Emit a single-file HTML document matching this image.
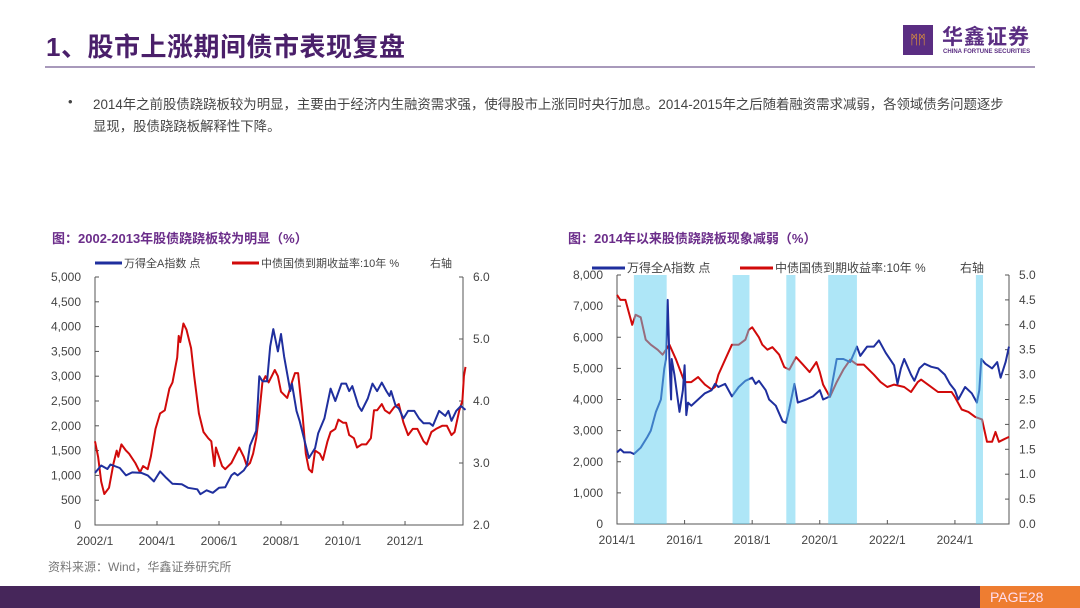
<!DOCTYPE html>
<html><head><meta charset="utf-8">
<style>
body{margin:0;width:1080px;height:608px;overflow:hidden;background:#fff;font-family:"Liberation Sans","Noto Sans CJK SC",sans-serif;position:relative}
.abs{position:absolute}
</style></head><body>
<div class="abs" style="left:46px;top:27px;font-size:26px;font-weight:bold;color:#4a1f6a;letter-spacing:0.5px">1、股市上涨期间债市表现复盘</div>
<div class="abs" style="left:45px;top:66px;width:990px;height:2px;background:#a899bb"></div>
<div class="abs" style="left:903px;top:25px;width:30px;height:30px;background:#5a2d82;color:#f0a030;font-size:13px;text-align:center;line-height:30px">ᛗᛗ</div>
<div class="abs" style="left:942px;top:21px;font-size:21px;color:#5a2d82;font-weight:bold;letter-spacing:1px">华鑫证券</div>
<div class="abs" style="left:943px;top:49px;font-size:6px;color:#5a2d82;font-weight:bold">CHINA FORTUNE SECURITIES</div>
<div class="abs" style="left:68px;top:94px;font-size:13px;color:#444">•</div>
<div class="abs" style="left:93px;top:94px;width:960px;font-size:13.4px;line-height:22px;color:#444;white-space:nowrap">2014年之前股债跷跷板较为明显，主要由于经济内生融资需求强，使得股市上涨同时央行加息。2014-2015年之后随着融资需求减弱，各领域债务问题逐步<br>显现，股债跷跷板解释性下降。</div>
<div class="abs" style="left:52px;top:228px;font-size:13px;font-weight:bold;color:#6b2d8a">图：2002-2013年股债跷跷板较为明显（%）</div>
<div class="abs" style="left:568px;top:228px;font-size:13px;font-weight:bold;color:#6b2d8a">图：2014年以来股债跷跷板现象减弱（%）</div>
<div class="abs" style="left:48px;top:558px;font-size:12px;color:#777">资料来源：Wind，华鑫证券研究所</div>
<div class="abs" style="left:0;top:586px;width:1080px;height:22px;background:#46265a"></div>
<div class="abs" style="left:980px;top:586px;width:100px;height:22px;background:#ee7d31;color:#fde;font-size:14px;line-height:22px;text-indent:10px">PAGE28</div>
<svg id="svg" class="abs" style="left:0;top:0" width="1080" height="608"></svg>
<script>
const c1Blue=[[2002.0,1050],[2002.2,1200],[2002.4,1130],[2002.5,1220],[2002.8,1150],[2003.0,1000],[2003.2,1060],[2003.5,1050],[2003.7,1000],[2003.9,880],[2004.1,1080],[2004.3,950],[2004.5,830],[2004.8,820],[2005.0,750],[2005.3,720],[2005.4,620],[2005.6,700],[2005.8,650],[2006.0,750],[2006.2,760],[2006.4,1000],[2006.5,1050],[2006.6,1000],[2006.8,1100],[2006.9,1200],[2007.0,1600],[2007.2,1900],[2007.3,3000],[2007.4,2900],[2007.55,2900],[2007.65,3600],[2007.75,3950],[2007.9,3500],[2008.0,3850],[2008.1,3400],[2008.3,2700],[2008.35,2850],[2008.5,2300],[2008.6,2100],[2008.8,1600],[2008.9,1350],[2009.1,1550],[2009.2,1850],[2009.4,2150],[2009.6,2750],[2009.75,2500],[2009.95,2850],[2010.1,2850],[2010.2,2700],[2010.3,2800],[2010.5,2400],[2010.6,2300],[2010.8,2550],[2010.95,2850],[2011.1,2700],[2011.25,2870],[2011.4,2700],[2011.5,2600],[2011.55,2700],[2011.7,2400],[2011.8,2350],[2011.95,2150],[2012.1,2300],[2012.3,2300],[2012.45,2150],[2012.6,2050],[2012.8,2050],[2012.9,2000],[2013.1,2300],[2013.3,2200],[2013.4,2300],[2013.5,2100],[2013.65,2300],[2013.8,2400],[2013.95,2320]];
const c1Red=[[2002.0,3.35],[2002.1,3.1],[2002.2,2.7],[2002.3,2.5],[2002.45,2.6],[2002.6,3.0],[2002.7,3.2],[2002.75,3.1],[2002.85,3.3],[2003.0,3.2],[2003.1,3.15],[2003.3,3.0],[2003.45,2.85],[2003.55,2.95],[2003.7,2.9],[2003.8,3.1],[2003.95,3.55],[2004.1,3.8],[2004.25,3.85],[2004.4,4.2],[2004.5,4.3],[2004.65,4.7],[2004.7,5.05],[2004.75,4.95],[2004.85,5.25],[2004.95,5.15],[2005.1,4.85],[2005.2,4.4],[2005.35,3.8],[2005.5,3.5],[2005.65,3.4],[2005.75,3.35],[2005.85,2.95],[2005.9,3.25],[2006.0,3.1],[2006.1,2.95],[2006.2,2.9],[2006.4,3.0],[2006.55,3.15],[2006.65,3.25],[2006.8,3.1],[2006.9,2.95],[2007.0,3.0],[2007.1,3.15],[2007.2,3.4],[2007.3,3.8],[2007.4,4.3],[2007.5,4.4],[2007.6,4.3],[2007.8,4.5],[2007.9,4.4],[2008.0,4.15],[2008.1,4.1],[2008.2,4.05],[2008.35,4.3],[2008.45,4.45],[2008.55,4.45],[2008.7,3.75],[2008.8,3.15],[2008.9,2.9],[2009.0,2.85],[2009.1,3.2],[2009.25,3.15],[2009.35,3.05],[2009.5,3.35],[2009.6,3.5],[2009.75,3.55],[2009.85,3.7],[2010.0,3.65],[2010.1,3.65],[2010.2,3.45],[2010.35,3.4],[2010.45,3.25],[2010.6,3.3],[2010.75,3.3],[2010.9,3.4],[2011.0,3.85],[2011.1,3.85],[2011.25,3.95],[2011.35,3.85],[2011.5,3.8],[2011.65,3.9],[2011.8,3.95],[2011.95,3.65],[2012.1,3.45],[2012.25,3.55],[2012.4,3.55],[2012.6,3.35],[2012.7,3.3],[2012.85,3.5],[2013.0,3.55],[2013.2,3.6],[2013.35,3.6],[2013.5,3.45],[2013.6,3.5],[2013.75,3.85],[2013.85,4.0],[2013.9,4.4],[2013.95,4.55]];
const c2Blue=[[2014.0,2300],[2014.1,2400],[2014.2,2300],[2014.4,2300],[2014.5,2250],[2014.7,2450],[2014.9,2800],[2015.0,3000],[2015.15,3600],[2015.3,4000],[2015.4,5000],[2015.45,5300],[2015.5,7200],[2015.55,5300],[2015.6,4000],[2015.62,5300],[2015.7,4800],[2015.85,3600],[2015.95,4300],[2016.0,5100],[2016.05,3500],[2016.1,3900],[2016.2,3800],[2016.4,4000],[2016.6,4200],[2016.8,4300],[2016.9,4500],[2017.0,4400],[2017.2,4500],[2017.4,4100],[2017.6,4400],[2017.8,4600],[2018.0,4700],[2018.1,4500],[2018.2,4600],[2018.4,4300],[2018.5,4000],[2018.7,3800],[2018.9,3300],[2019.0,3250],[2019.1,3700],[2019.25,4500],[2019.35,3900],[2019.6,4000],[2019.8,4100],[2020.0,4300],[2020.1,4000],[2020.3,4100],[2020.5,5300],[2020.7,5300],[2020.9,5200],[2021.1,5700],[2021.2,5400],[2021.4,5700],[2021.6,5700],[2021.75,5900],[2021.95,5500],[2022.2,5100],[2022.3,4500],[2022.4,5000],[2022.5,5300],[2022.7,4800],[2022.8,4600],[2022.95,5000],[2023.1,5150],[2023.3,5050],[2023.5,5000],[2023.7,4800],[2023.85,4500],[2024.0,4300],[2024.1,4000],[2024.3,4400],[2024.5,4200],[2024.65,3900],[2024.72,4300],[2024.78,5300],[2024.9,5150],[2025.1,5000],[2025.25,5200],[2025.35,4700],[2025.5,5200],[2025.6,5700]];
const c2Red=[[2014.0,4.6],[2014.1,4.5],[2014.25,4.5],[2014.45,4.0],[2014.55,4.2],[2014.7,4.15],[2014.85,3.7],[2015.0,3.6],[2015.2,3.5],[2015.35,3.4],[2015.55,3.6],[2015.75,3.3],[2016.0,2.85],[2016.2,2.85],[2016.4,2.95],[2016.6,2.8],[2016.8,2.7],[2016.9,2.75],[2017.0,3.0],[2017.2,3.3],[2017.4,3.6],[2017.6,3.6],[2017.8,3.7],[2017.9,3.9],[2018.0,3.95],[2018.2,3.75],[2018.3,3.6],[2018.45,3.5],[2018.6,3.55],[2018.8,3.4],[2018.95,3.15],[2019.1,3.1],[2019.3,3.35],[2019.5,3.2],[2019.7,3.05],[2019.9,3.25],[2020.0,3.05],[2020.1,2.8],[2020.3,2.55],[2020.5,2.85],[2020.7,3.1],[2020.9,3.3],[2021.1,3.2],[2021.3,3.2],[2021.6,3.0],[2021.8,2.85],[2022.0,2.75],[2022.2,2.8],[2022.5,2.75],[2022.7,2.65],[2022.9,2.85],[2023.0,2.9],[2023.2,2.8],[2023.5,2.65],[2023.7,2.65],[2023.9,2.65],[2024.0,2.55],[2024.2,2.3],[2024.4,2.25],[2024.6,2.15],[2024.8,2.1],[2024.95,1.65],[2025.1,1.65],[2025.2,1.85],[2025.3,1.65],[2025.45,1.7],[2025.6,1.75]];
const c2Bands=[[2014.5,2015.47],[2017.42,2017.92],[2019.01,2019.28],[2020.25,2021.1],[2024.62,2024.83]];
const c1LeftTicks=[0,500,1000,1500,2000,2500,3000,3500,4000,4500,5000];
const c1RightTicks=[2.0,3.0,4.0,5.0,6.0];
const c1XTicks=[2002,2004,2006,2008,2010,2012];
const c2LeftTicks=[0,1000,2000,3000,4000,5000,6000,7000,8000];
const c2RightTicks=[0,0.5,1,1.5,2,2.5,3,3.5,4,4.5,5];
const c2XTicks=[2014,2016,2018,2020,2022,2024];

const NS='http://www.w3.org/2000/svg',svg=document.getElementById('svg');
function mk(t,a,txt){const e=document.createElementNS(NS,t);for(const k in a)e.setAttribute(k,a[k]);if(txt!=null)e.textContent=txt;svg.appendChild(e);return e;}
function chart(o){
  const X=v=>o.x0+(v-o.xmin)/(o.xmax-o.xmin)*(o.x1-o.x0);
  const YL=v=>o.yb-(v-o.lmin)/(o.lmax-o.lmin)*(o.yb-o.yt);
  const YR=v=>o.yb-(v-o.rmin)/(o.rmax-o.rmin)*(o.yb-o.yt);
  const ax=mk('path',{d:`M${o.x0},${o.yt}V${o.yb}H${o.x1}V${o.yt}`,fill:'none',stroke:'#555','stroke-width':1});
  
  o.lt.forEach(v=>{mk('line',{x1:o.x0,x2:o.x0+4,y1:YL(v),y2:YL(v),stroke:'#555'});
    const t=mk('text',{x:o.x0-14,y:YL(v)+4,'text-anchor':'end','font-size':12,fill:'#444'},v.toLocaleString('en-US'));
    });
  o.rt.forEach(v=>{mk('line',{x1:o.x1-4,x2:o.x1,y1:YR(v),y2:YR(v),stroke:'#555'});
    const t=mk('text',{x:o.x1+10,y:YR(v)+4,'font-size':12,fill:'#444'},v.toFixed(1));
    });
  o.xt.forEach(v=>{mk('line',{x1:X(v),x2:X(v),y1:o.yb,y2:o.yb-4,stroke:'#555'});
    const t=mk('text',{x:X(v),y:o.yb+20,'text-anchor':'middle','font-size':12,fill:'#444'},v+'/1');
    });
  const p=(d,Y)=>d.map((q,i)=>(i?'L':'M')+X(q[0]).toFixed(1)+','+Y(q[1]).toFixed(1)).join('');
  const r=mk('path',{d:p(o.red,YR),fill:'none',stroke:'#d10a0a','stroke-width':2,'stroke-linejoin':'round'});
  
  const b=mk('path',{d:p(o.blue,YL),fill:'none',stroke:'#1f2f9e','stroke-width':2,'stroke-linejoin':'round'});
  
  (o.bands||[]).forEach(q=>{const s=mk('rect',{x:X(q[0]),y:o.yt,width:X(q[1])-X(q[0]),height:o.yb-o.yt,fill:'#5dcdef','fill-opacity':0.5});
    });
  const L=o.leg;
  mk('line',{x1:L.bx,x2:L.bx+L.w,y1:L.y,y2:L.y,stroke:'#1f2f9e','stroke-width':3});
  const t1=mk('text',{x:L.bx+L.w+2,y:L.y+4,'font-size':L.fs,fill:'#444'},'万得全A指数 点');
  
  mk('line',{x1:L.rx,x2:L.rx+L.w,y1:L.y,y2:L.y,stroke:'#d10a0a','stroke-width':3});
  const t2=mk('text',{x:L.rx+L.w+2,y:L.y+4,'font-size':L.fs,fill:'#444'},'中债国债到期收益率:10年 %');
  
  const t3=mk('text',{x:L.ax,y:L.y+4,'font-size':L.fs,fill:'#444'},'右轴');
  
}
chart({x0:95,x1:463,xmin:2002,xmax:2013.87,yt:277,yb:525,lmin:0,lmax:5000,rmin:2,rmax:6,lt:c1LeftTicks,rt:c1RightTicks,xt:c1XTicks,blue:c1Blue,red:c1Red,
  leg:{y:263,bx:95,rx:232,w:27,ax:430,fs:11}});
chart({x0:617,x1:1009,xmin:2014,xmax:2025.6,yt:275,yb:524,lmin:0,lmax:8000,rmin:0,rmax:5,lt:c2LeftTicks,rt:c2RightTicks,xt:c2XTicks,blue:c2Blue,red:c2Red,bands:c2Bands,
  leg:{y:268,bx:592,rx:740,w:33,ax:960,fs:12}});
</script>
</body></html>
